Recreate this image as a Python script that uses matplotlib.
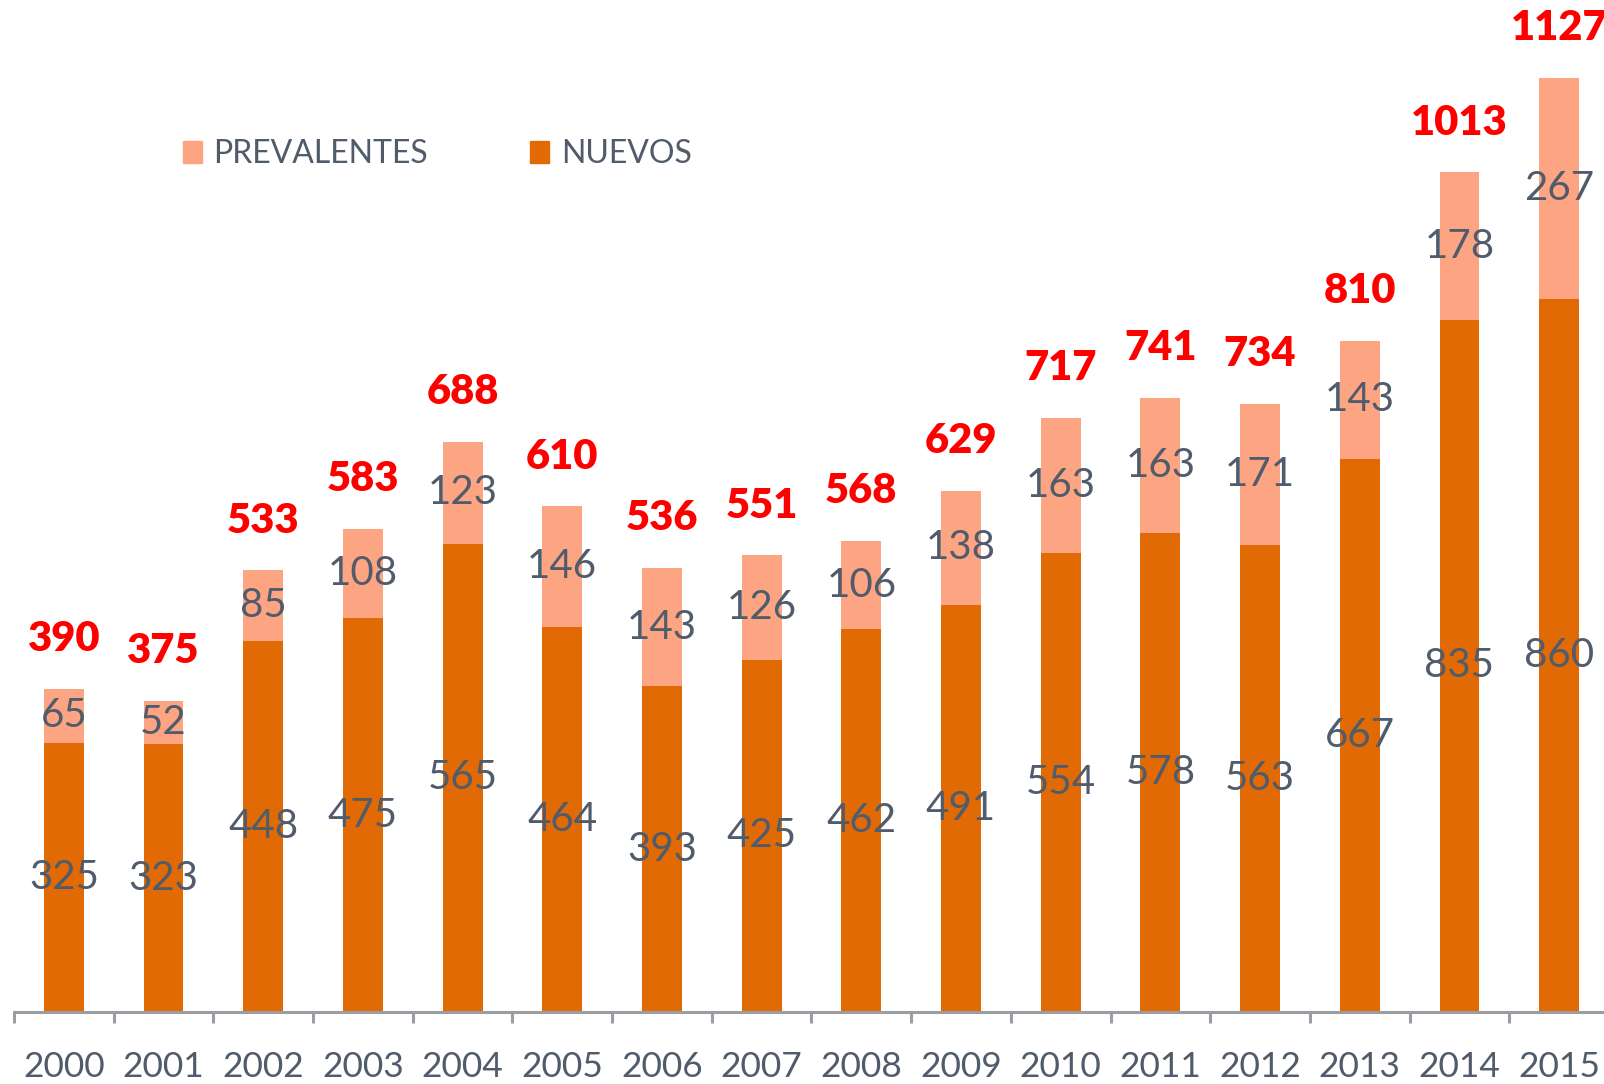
import matplotlib
matplotlib.use('Agg')
import matplotlib.pyplot as plt
from matplotlib.patches import Patch
from matplotlib.ticker import FixedLocator

years = ['2000', '2001', '2002', '2003', '2004', '2005', '2006', '2007',
         '2008', '2009', '2010', '2011', '2012', '2013', '2014', '2015']
nuevos = [325, 323, 448, 475, 565, 464, 393, 425, 462, 491, 554, 578, 563, 667, 835, 860]
prevalentes = [65, 52, 85, 108, 123, 146, 143, 126, 106, 138, 163, 163, 171, 143, 178, 267]
totales = [390, 375, 533, 583, 688, 610, 536, 551, 568, 629, 717, 741, 734, 810, 1013, 1127]

C_NUEVOS = '#E26A04'
C_PREV = '#FDA583'
C_TEXT = '#505B6B'
C_AXIS = '#9A9DA2'

plt.rcParams['font.family'] = ['Lato', 'DejaVu Sans']

fig = plt.figure(figsize=(16.04, 10.84), dpi=100)
ax = fig.add_axes([14 / 1604, 72 / 1084, 1 - 14 / 1604, 1012 / 1084])

x = list(range(len(years)))
ax.bar(x, nuevos, width=0.40, color=C_NUEVOS, label='NUEVOS')
ax.bar(x, prevalentes, width=0.40, bottom=nuevos, color=C_PREV, label='PREVALENTES')

for i in x:
    ax.text(i, nuevos[i] / 2, str(nuevos[i]), ha='center', va='center',
            fontsize=29, color=C_TEXT)
    ax.text(i, nuevos[i] + prevalentes[i] / 2, str(prevalentes[i]), ha='center',
            va='center', fontsize=29, color=C_TEXT)
    ax.text(i, totales[i] + 60, str(totales[i]), ha='center', va='center',
            fontsize=30, fontweight='heavy', color='#FF0000')

ax.set_xlim(-0.5, 15.45)
ax.set_ylim(0, 1221)

for s in ['top', 'right', 'left']:
    ax.spines[s].set_visible(False)
ax.spines['bottom'].set_color(C_AXIS)
ax.spines['bottom'].set_linewidth(2.2)

ax.set_yticks([])
ax.set_xticks(x)
ax.set_xticklabels(years)
ax.tick_params(axis='x', which='major', length=0, pad=28, labelsize=25.5, labelcolor=C_TEXT)
ax.xaxis.set_minor_locator(FixedLocator([i - 0.5 for i in range(len(years) + 1)]))
ax.tick_params(axis='x', which='minor', length=8, width=2.2, color=C_AXIS, direction='out')

handles = [Patch(color=C_PREV, label='PREVALENTES'), Patch(color=C_NUEVOS, label='NUEVOS')]
fig.legend(handles=handles, loc='center left', bbox_to_anchor=(183 / 1604, 1 - 154 / 1084),
           ncol=2, frameon=False, fontsize=23, labelcolor=C_TEXT,
           handlelength=0.6, handleheight=0.68, handletextpad=0.35,
           columnspacing=3.2, borderpad=0, borderaxespad=0)

fig.savefig('out.png', dpi=100)
